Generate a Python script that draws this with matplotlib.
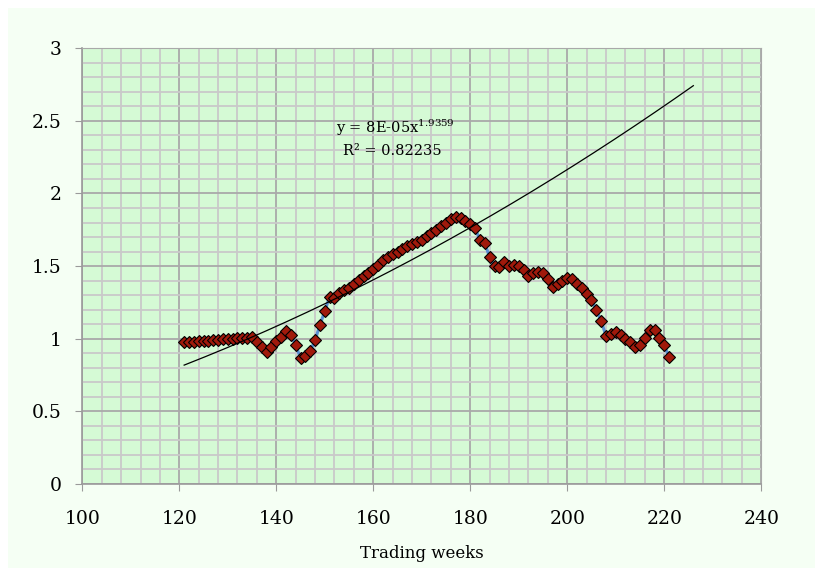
import matplotlib.pyplot as plt
import numpy as np
from matplotlib.patches import Rectangle
from matplotlib.ticker import MultipleLocator

plt.rcParams['font.family'] = ['DejaVu Serif']
plt.rcParams['mathtext.fontset'] = 'dejavuserif'

# weekly values
weeks = list(range(121, 222))
values = [
    0.975, 0.977, 0.980, 0.982, 0.985, 0.987, 0.990, 0.992, 0.995, 0.997,
    1.000, 1.002, 1.005, 1.008, 1.012, 0.976, 0.946, 0.911, 0.946, 0.987,
    1.014, 1.055, 1.025, 0.957, 0.866, 0.880, 0.915, 0.990, 1.095, 1.190,
    1.290, 1.280, 1.315, 1.335, 1.350, 1.380, 1.405, 1.430, 1.455, 1.480,
    1.510, 1.540, 1.560, 1.585, 1.600, 1.620, 1.640, 1.655, 1.665, 1.680,
    1.710, 1.725, 1.750, 1.775, 1.800, 1.825, 1.840, 1.830, 1.810, 1.790,
    1.760, 1.680, 1.660, 1.560, 1.500, 1.495, 1.530, 1.500, 1.505, 1.500,
    1.470, 1.435, 1.450, 1.460, 1.450, 1.410, 1.355, 1.375, 1.400, 1.415,
    1.410, 1.380, 1.350, 1.305, 1.265, 1.200, 1.120, 1.020, 1.030, 1.045,
    1.025, 1.000, 0.975, 0.940, 0.960, 1.005, 1.060, 1.060, 1.005, 0.955,
    0.875,
]

# power trendline y = a * x^b, extended 5 weeks forward
trend_a = 7.6e-5
trend_b = 1.9359
trend_r2 = 0.82235
trend_x_end = 226

fig = plt.figure(figsize=(8.15, 5.68), dpi=100)
fig.patch.set_facecolor('white')
fig.patches.append(Rectangle((8 / 815, 0), 1, 1 - 8 / 568, transform=fig.transFigure,
                             facecolor='#f5fff4', edgecolor='none', zorder=-10))

ax = fig.add_axes([0.101, 0.148, 0.833, 0.767])
ax.set_facecolor('#d5fad5')

ax.set_xlim(100, 240)
ax.set_ylim(0, 3)
ax.xaxis.set_major_locator(MultipleLocator(20))
ax.xaxis.set_minor_locator(MultipleLocator(4))
ax.yaxis.set_minor_locator(MultipleLocator(0.1))
ax.set_yticks(np.arange(0, 3.01, 0.5))
ax.set_yticklabels(['0', '0.5', '1', '1.5', '2', '2.5', '3'])

ax.grid(which='minor', color='#c9c9c9', linewidth=1.3)
ax.grid(which='major', color='#a9a9a9', linewidth=1.3)
ax.set_axisbelow(True)

for side in ['top', 'right']:
    ax.spines[side].set_color('#a9a9a9')
for side in ['left', 'bottom']:
    ax.spines[side].set_color('#9a9a9a')
    ax.spines[side].set_linewidth(1.2)

ax.tick_params(which='major', direction='out', length=5, color='#9a9a9a', labelsize=13.5)
ax.tick_params(axis='x', which='major', pad=14)
ax.tick_params(axis='y', which='major', pad=10)
ax.tick_params(which='minor', length=0)

ax.plot(weeks, values, color='#5b8fd3', linewidth=2.2, zorder=3,
        marker='D', markersize=6.2, markerfacecolor='#a0190b',
        markeredgecolor='black', markeredgewidth=0.8)

tx = np.linspace(weeks[0], trend_x_end, 200)
ax.plot(tx, trend_a * tx ** trend_b, color='black', linewidth=0.9, zorder=4)

coef = f'{trend_a:.0E}'
ax.text(164.5, 2.45, f'y = {coef}x$^{{{trend_b}}}$', ha='center', va='center', fontsize=10.5)
ax.text(164, 2.29, f'R² = {trend_r2}', ha='center', va='center', fontsize=10.5)

ax.set_xlabel('Trading weeks', fontsize=12, labelpad=12)

plt.savefig('out.png', dpi=100, facecolor=fig.get_facecolor())
